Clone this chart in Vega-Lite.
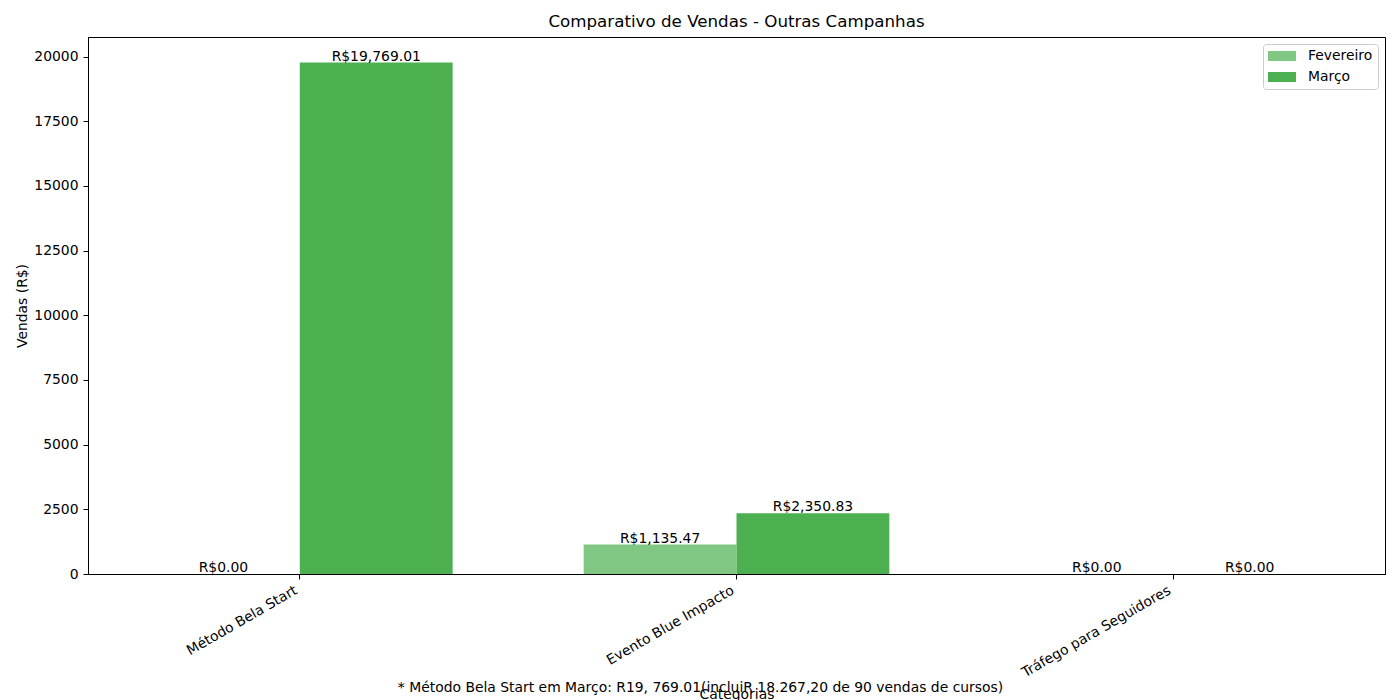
{
  "$schema": "https://vega.github.io/schema/vega-lite/v6.json",
  "width": 1297,
  "height": 537,
  "autosize": "none",
  "padding": {"left": 88, "top": 37, "right": 15, "bottom": 126},
  "title": {
    "text": "Comparativo de Vendas - Outras Campanhas",
    "fontSize": 16.7,
    "fontWeight": "normal",
    "color": "black",
    "offset": 6
  },
  "data": {
    "values": [
      {"campanha": "Método Bela Start", "mes": "Fevereiro", "valor": 0},
      {"campanha": "Método Bela Start", "mes": "Março", "valor": 19769.01},
      {"campanha": "Evento Blue Impacto", "mes": "Fevereiro", "valor": 1135.47},
      {"campanha": "Evento Blue Impacto", "mes": "Março", "valor": 2350.83},
      {"campanha": "Tráfego para Seguidores", "mes": "Fevereiro", "valor": 0},
      {"campanha": "Tráfego para Seguidores", "mes": "Março", "valor": 0}
    ]
  },
  "encoding": {
    "xOffset": {
      "field": "mes",
      "type": "nominal",
      "sort": ["Fevereiro", "Março"],
      "scale": {"paddingInner": 0, "paddingOuter": 0}
    },
    "y": {
      "field": "valor",
      "type": "quantitative",
      "scale": {"domain": [0, 20757], "nice": false, "zero": true},
      "axis": {
        "title": "Vendas (R$)",
        "values": [0, 2500, 5000, 7500, 10000, 12500, 15000, 17500, 20000],
        "format": "d",
        "grid": false
      }
    }
  },
  "layer": [
    {
      "mark": {"type": "bar"},
      "encoding": {
        "x": {
          "field": "campanha",
          "type": "nominal",
          "sort": null,
          "scale": {"paddingInner": 0.3, "paddingOuter": 0.135},
          "axis": {
            "title": "Categorias",
            "orient": "bottom",
            "labelAngle": -30,
            "labelAlign": "right",
            "labelBaseline": "top",
            "labelOffset": -7,
            "labelPadding": 4,
            "titleBaseline": "alphabetic",
            "titleY": 124
          }
        },
        "color": {
          "field": "mes",
          "type": "nominal",
          "sort": ["Fevereiro", "Março"],
          "scale": {"domain": ["Fevereiro", "Março"], "range": ["#81c784", "#4caf50"]},
          "legend": {
            "title": null,
            "orient": "top-right",
            "offset": 7,
            "symbolType": "M-1,-0.357H1V0.357H-1Z",
            "symbolSize": 784,
            "symbolStrokeWidth": 0,
            "clipHeight": 14,
            "rowPadding": 7,
            "labelOffset": 12,
            "labelFontSize": 13.9,
            "labelColor": "black",
            "padding": 5,
            "strokeColor": "#cccccc",
            "fillColor": "white",
            "cornerRadius": 3
          }
        }
      }
    },
    {
      "mark": {"type": "text", "baseline": "bottom", "fontSize": 13.9, "color": "black", "dy": 1},
      "encoding": {
        "x": {
          "field": "campanha",
          "type": "nominal",
          "sort": null,
          "axis": {
            "title": "* Método Bela Start em Março: R19, 769.01(incluiR 18.267,20 de 90 vendas de cursos)",
            "orient": "bottom",
            "labels": false,
            "ticks": false,
            "domain": false,
            "titleAlign": "center",
            "titleAnchor": null,
            "titleX": 612,
            "titleY": 117,
            "titleBaseline": "alphabetic"
          }
        },
        "text": {"field": "valor", "type": "quantitative", "format": "$,.2f"}
      }
    }
  ],
  "resolve": {"axis": {"x": "independent"}},
  "config": {
    "font": "DejaVu Sans",
    "locale": {
      "number": {"decimal": ".", "thousands": ",", "grouping": [3], "currency": ["R$", ""]}
    },
    "view": {"stroke": "black", "strokeWidth": 1},
    "axis": {
      "domainColor": "black",
      "tickColor": "black",
      "tickSize": 5,
      "labelPadding": 5,
      "labelFontSize": 13.9,
      "labelColor": "black",
      "titleFontSize": 13.9,
      "titleFontWeight": "normal",
      "titleColor": "black"
    }
  }
}
